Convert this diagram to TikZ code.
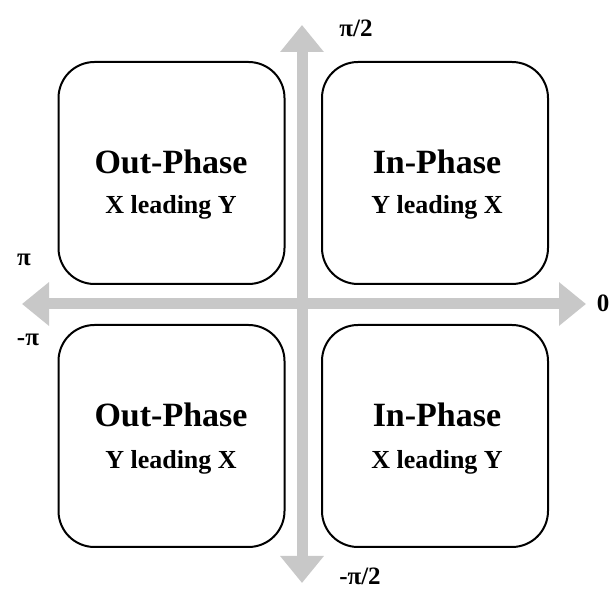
\documentclass[tikz,border=0pt]{standalone}
\usepackage{fontspec}
\setmainfont{Liberation Serif}
\usetikzlibrary{arrows.meta}
\begin{document}
\begin{tikzpicture}[x=1pt,y=1pt,
  quad/.style={draw=black, line width=2pt, rounded corners=36pt, minimum width=226pt, minimum height=222pt, inner sep=0pt},
  title/.style={font=\fontsize{34}{34}\selectfont\bfseries, inner sep=0pt},
  sub/.style={font=\fontsize{26}{26}\selectfont\bfseries, inner sep=0pt},
  lab/.style={font=\fontsize{25}{25}\selectfont\bfseries, inner sep=0pt},
  axis/.style={draw=axisgray, line width=11pt, {Triangle[width=42pt,length=27pt]}-{Triangle[width=42pt,length=27pt]}}
]
\definecolor{axisgray}{RGB}{200,200,200}
\useasboundingbox (0,0) rectangle (616,589);
\fill[white] (0,0) rectangle (616,589);
% axes
\coordinate (top) at (302,564);
\coordinate (bot) at (302,6);
\coordinate (lft) at (22,285);
\coordinate (rgt) at (586,285);
\draw[axis] (bot) -- (top);
\draw[axis] (lft) -- (rgt);
% boxes
\node[quad] (tl) at (171.5,416) {};
\node[quad] (tr) at (435,416) {};
\node[quad] (bl) at (171.5,153) {};
\node[quad] (br) at (435,153) {};
% texts
\node[title] (tlt) at (171,427) {Out-Phase};
\node[sub] (tls) at (171,382) {X leading Y};
\node[title] (trt) at (437,427) {In-Phase};
\node[sub] (trs) at (437,382) {Y leading X};
\node[title] (blt) at (171,174) {Out-Phase};
\node[sub] (bls) at (171,127) {Y leading X};
\node[title] (brt) at (437,174) {In-Phase};
\node[sub] (brs) at (437,127) {X leading Y};
% labels
\node[lab] (lpi2) at (356,561) {π/2};
\node[lab] (lpi) at (24,329) {π};
\node[lab] (lzero) at (603,286) {0};
\node[lab] (lmpi) at (28,249) {-π};
\node[lab] (lmpi2) at (360,13) {-π/2};
\end{tikzpicture}
\end{document}
